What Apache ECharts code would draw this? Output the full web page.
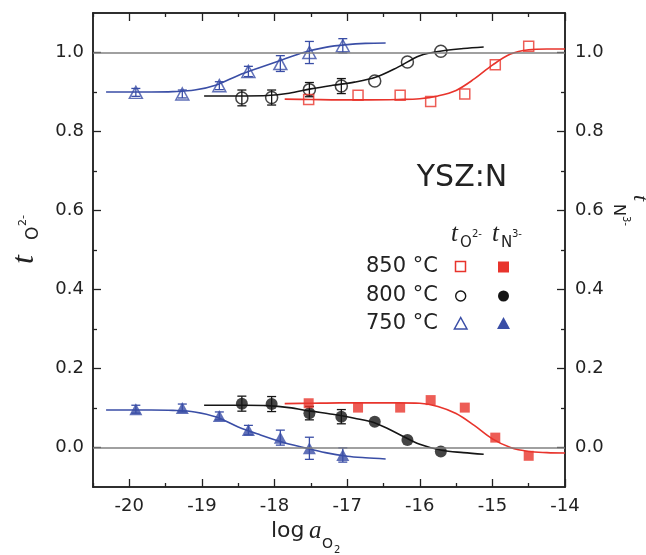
<!DOCTYPE html>
<html><head><meta charset="utf-8">
<script src="https://cdn.jsdelivr.net/npm/echarts@6/dist/echarts.min.js"></script>
<style>html,body{margin:0;padding:0;background:#fff}#c{width:646px;height:555px}</style>
</head><body><div id="c"></div>
<script>
// ---- data ----
const logA750 = [-19.91, -19.27, -18.76, -18.36, -17.92, -17.52, -17.06];
const tO750   = [0.899, 0.895, 0.916, 0.952, 0.972, 1.000, 1.017];
const eO750   = [0.010, 0.010, 0.010, 0.013, 0.020, 0.028, 0.018];
const tN750   = [0.097, 0.100, 0.080, 0.044, 0.025, -0.002, -0.019];
const eN750   = [0.010, 0.010, 0.010, 0.012, 0.019, 0.028, 0.018];

const logA800 = [-18.45, -18.04, -17.52, -17.08, -16.62, -16.17, -15.71];
const tO800   = [0.885, 0.886, 0.906, 0.915, 0.928, 0.976, 1.003];
const eO800   = [0.020, 0.019, 0.018, 0.019, 0, 0, 0];
const tN800   = [0.111, 0.110, 0.087, 0.078, 0.065, 0.019, -0.010];
const eN800   = [0.019, 0.019, 0.017, 0.018, 0, 0, 0];

const logA850 = [-17.53, -16.85, -16.27, -15.85, -15.38, -14.96, -14.50];
const tO850   = [0.881, 0.892, 0.892, 0.876, 0.895, 0.969, 1.016];
const tN850   = [0.112, 0.101, 0.101, 0.120, 0.101, 0.025, -0.021];

// fitted curves, points
const fit750x  = [-20.32, -20.0, -19.7, -19.4, -19.1, -18.8, -18.5, -18.2, -17.9, -17.6, -17.3, -17.0, -16.75, -16.47];
const fitO750y = [0.900, 0.900, 0.900, 0.901, 0.905, 0.918, 0.942, 0.962, 0.981, 1.000, 1.013, 1.020, 1.023, 1.024];
const fitN750y = [0.095, 0.095, 0.095, 0.094, 0.090, 0.077, 0.052, 0.032, 0.014, 0.000, -0.013, -0.022, -0.026, -0.029];

const fit800x  = [-18.97, -18.7, -18.4, -18.1, -17.8, -17.5, -17.2, -16.9, -16.6, -16.3, -16.0, -15.7, -15.4, -15.12];
const fitO800y = [0.890, 0.890, 0.890, 0.891, 0.897, 0.908, 0.917, 0.925, 0.938, 0.963, 0.992, 1.004, 1.010, 1.014];
const fitN800y = [0.107, 0.107, 0.107, 0.106, 0.101, 0.092, 0.084, 0.074, 0.061, 0.035, 0.008, -0.007, -0.013, -0.017];

const fit850x  = [-17.86, -17.5, -17.1, -16.7, -16.3, -16.0, -15.75, -15.5, -15.25, -15.0, -14.75, -14.5, -14.25, -14.0];
const fitO850y = [0.882, 0.881, 0.880, 0.880, 0.881, 0.883, 0.890, 0.904, 0.933, 0.968, 0.996, 1.007, 1.009, 1.009];
const fitN850y = [0.111, 0.112, 0.113, 0.113, 0.113, 0.112, 0.104, 0.086, 0.056, 0.022, 0.000, -0.010, -0.013, -0.014];

const xMajor = [-20, -19, -18, -17, -16, -15, -14];
const xMinor = [-20.5, -19.5, -18.5, -17.5, -16.5, -15.5, -14.5];
const yMajor = [0.0, 0.2, 0.4, 0.6, 0.8, 1.0];
const yMinor = [0.1, 0.3, 0.5, 0.7, 0.9];

// ---- styling ----
const BLUE = '#3a4ea6', RED = '#e8342c', BLACK = '#151515', AX = '#222';
const FONT = '"DejaVu Sans", sans-serif';
const SERIF = '"Liberation Serif", "DejaVu Serif", serif';

const zip = (a, b) => a.map((v, i) => [v, b[i]]);
const zip3 = (a, b, c) => a.map((v, i) => [v, b[i], c[i]]);

function xAx(pos, ticks, len, labels) {
  return {
    type: 'value', position: pos, min: -20.5, max: -14,
    axisLine: { show: true, onZero: false, lineStyle: { color: AX, width: 1.5 } },
    axisTick: { show: true, inside: true, length: len, customValues: ticks, lineStyle: { color: AX, width: 1.3 } },
    axisLabel: labels ? { show: true, customValues: ticks, margin: 10, fontSize: 18, color: AX, fontFamily: FONT,
      formatter: v => String(v) } : { show: false },
    splitLine: { show: false }
  };
}
function yAx(pos, ticks, len, labels) {
  return {
    type: 'value', position: pos, min: -0.1, max: 1.1,
    axisLine: { show: true, onZero: false, lineStyle: { color: AX, width: 1.5 } },
    axisTick: { show: true, inside: true, length: len, customValues: ticks, lineStyle: { color: AX, width: 1.3 } },
    axisLabel: labels ? { show: true, customValues: ticks, margin: pos === 'left' ? 9 : 10, fontSize: 18, color: AX, fontFamily: FONT,
      formatter: v => v.toFixed(1) } : { show: false },
    splitLine: { show: false }
  };
}

function fitSeries(xs, ys, color, extra) {
  return Object.assign({
    type: 'line', data: zip(xs, ys), showSymbol: false, symbol: 'none',
    smooth: 0.35,
    lineStyle: { color: color, width: 1.6 }, silent: true, z: 2
  }, extra || {});
}
function errSeries(xs, ys, es, color) {
  return {
    type: 'custom', data: zip3(xs, ys, es), encode: { x: 0, y: 1 }, silent: true, z: 3,
    renderItem: function (params, api) {
      const x = api.value(0), y = api.value(1), e = api.value(2);
      if (!e) return null;
      const hi = api.coord([x, y + e]), lo = api.coord([x, y - e]);
      const w = 4.5, st = { stroke: color, lineWidth: 1.3 };
      return { type: 'group', children: [
        { type: 'line', shape: { x1: hi[0], y1: hi[1], x2: lo[0], y2: lo[1] }, style: st },
        { type: 'line', shape: { x1: hi[0] - w, y1: hi[1], x2: hi[0] + w, y2: hi[1] }, style: st },
        { type: 'line', shape: { x1: lo[0] - w, y1: lo[1], x2: lo[0] + w, y2: lo[1] }, style: st }
      ] };
    }
  };
}
function scat(xs, ys, color, symbol, size, open) {
  return {
    type: 'scatter', data: zip(xs, ys), symbol: symbol, symbolSize: size, z: 4,
    itemStyle: open ? { color: 'rgba(0,0,0,0)', borderColor: color, borderWidth: 1.5 }
                    : { color: color, borderWidth: 0 }
  };
}

// ---- graphic texts (axis names, legend) ----
function tText(x, y, txt, size, opts) {
  return Object.assign({ type: 'text', x: x, y: y,
    style: { text: txt, font: size + 'px ' + FONT, fill: AX, align: 'left', verticalAlign: 'middle' } }, opts || {});
}
function italicT(x, y, size) {
  return { type: 'text', x: x, y: y,
    style: { text: 't', font: 'italic ' + size + 'px ' + SERIF, fill: AX, align: 'left', verticalAlign: 'middle' } };
}
// local layout: t, subscript (offset down), superscript
function subLabel(size, sub, subX, subY, subSize, sup, supX, supY, supSize) {
  return [ italicT(0, 0, size), tText(subX, subY, sub, subSize), tText(supX, supY, sup, supSize) ];
}

const graphics = [
  // left axis name (reads bottom to top)
  { type: 'group', x: 25, y: 264, rotation: Math.PI / 2,
    children: subLabel(32, 'O', 24, 9, 17, '2-', 38, -2, 11) },
  // right axis name (reads top to bottom)
  { type: 'group', x: 640, y: 195, rotation: -Math.PI / 2,
    children: subLabel(22, 'N', 9, 22, 16, '3-', 21, 14, 10) },
  // x axis name
  tText(271, 531, 'log', 22),
  { type: 'text', x: 309, y: 531, style: { text: 'a', font: 'italic 25px ' + SERIF, fill: AX, align: 'left', verticalAlign: 'middle' } },
  tText(322, 544, 'O', 14),
  tText(334, 550, '2', 10),
  // title
  { type: 'text', x: 462, y: 178, style: { text: 'YSZ:N', font: '30px ' + FONT, fill: AX, align: 'center', verticalAlign: 'middle' } },
  // legend headers
  { type: 'group', x: 451, y: 234, children: subLabel(25, 'O', 9, 9, 15, '2-', 21, 0, 10) },
  { type: 'group', x: 492, y: 234, children: subLabel(25, 'N', 9, 9, 15, '3-', 20, 0, 10) },
  // legend rows
  tText(366, 267, '850 °C', 21),
  tText(366, 296, '800 °C', 21),
  tText(366, 324, '750 °C', 21),
  { type: 'rect', shape: { x: 455.5, y: 261.5, width: 10, height: 10 }, style: { fill: 'none', stroke: RED, lineWidth: 1.5 } },
  { type: 'rect', shape: { x: 498, y: 261.5, width: 11, height: 11 }, style: { fill: RED } },
  { type: 'circle', shape: { cx: 460.7, cy: 296, r: 5 }, style: { fill: 'none', stroke: BLACK, lineWidth: 1.4 } },
  { type: 'circle', shape: { cx: 503.5, cy: 296, r: 5.5 }, style: { fill: BLACK } },
  { type: 'polygon', shape: { points: [[460.7, 317.5], [467, 329], [454.4, 329]] }, style: { fill: 'none', stroke: BLUE, lineWidth: 1.5 } },
  { type: 'polygon', shape: { points: [[503.5, 317], [510, 329], [497, 329]] }, style: { fill: BLUE } }
];

const option = {
  animation: false,
  backgroundColor: '#fff',
  grid: { left: 93, right: 81, top: 13, bottom: 68, containLabel: false },
  xAxis: [ xAx('bottom', xMajor, 8, true), xAx('bottom', xMinor, 4, false),
           xAx('top', xMajor, 8, false), xAx('top', xMinor, 4, false) ],
  yAxis: [ yAx('left', yMajor, 8, true), yAx('left', yMinor, 4, false),
           yAx('right', yMajor, 8, true), yAx('right', yMinor, 4, false) ],
  series: [
    fitSeries(fit750x, fitO750y, BLUE, {
      markLine: { silent: true, symbol: 'none', label: { show: false },
        lineStyle: { color: '#808080', width: 1.5, type: 'solid' },
        data: [{ yAxis: 1 }, { yAxis: 0 }] }, z: 1 }),
    fitSeries(fit750x, fitN750y, BLUE),
    fitSeries(fit800x, fitO800y, BLACK),
    fitSeries(fit800x, fitN800y, BLACK),
    fitSeries(fit850x, fitO850y, RED),
    fitSeries(fit850x, fitN850y, RED),
    errSeries(logA750, tO750, eO750, BLUE),
    errSeries(logA750, tN750, eN750, BLUE),
    errSeries(logA800, tO800, eO800, BLACK),
    errSeries(logA800, tN800, eN800, BLACK),
    scat(logA750, tO750, BLUE, 'triangle', [13, 12], true),
    scat(logA750, tN750, BLUE, 'triangle', [13, 12], false),
    scat(logA800, tO800, BLACK, 'circle', 12, true),
    scat(logA800, tN800, BLACK, 'circle', 12, false),
    scat(logA850, tO850, RED, 'rect', 10, true),
    scat(logA850, tN850, RED, 'rect', 10, false)
  ],
  graphic: graphics
};
const chart = echarts.init(document.getElementById('c'), null, { renderer: 'canvas' });
chart.setOption(option);
</script>
</body></html>
